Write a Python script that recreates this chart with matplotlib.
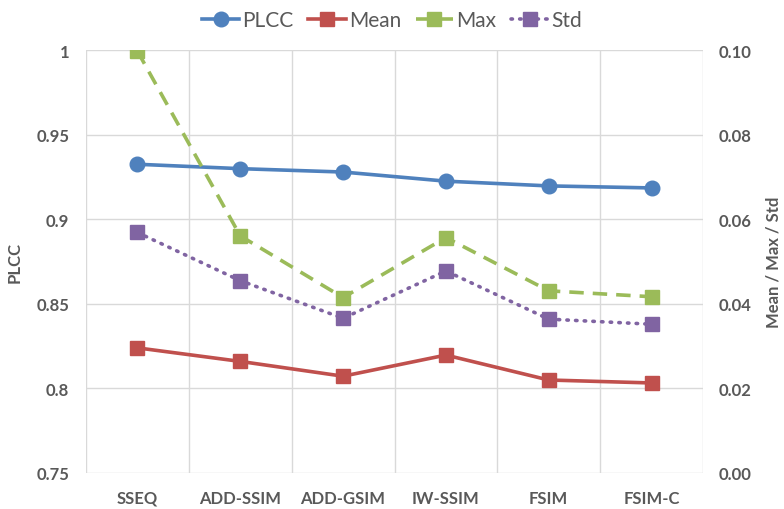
import matplotlib
matplotlib.use("Agg")
import matplotlib.pyplot as plt
import numpy as np
from matplotlib.ticker import FixedLocator, FormatStrFormatter

plt.rcParams['font.family'] = ['Lato', 'DejaVu Sans']

categories = ["SSEQ", "ADD-SSIM", "ADD-GSIM", "IW-SSIM", "FSIM", "FSIM-C"]
plcc = [0.9326, 0.9300, 0.9280, 0.9226, 0.9198, 0.9186]
mean_vals = [0.0296, 0.0264, 0.0229, 0.0279, 0.0220, 0.0213]
max_vals = [0.0998, 0.0561, 0.0415, 0.0557, 0.0431, 0.0417]
std_vals = [0.0569, 0.0455, 0.0366, 0.0478, 0.0364, 0.0352]

left_ticks = [0.75, 0.8, 0.85, 0.9, 0.95, 1.0]
left_labels = ["0.75", "0.8", "0.85", "0.9", "0.95", "1"]
right_ticks = [0.0, 0.02, 0.04, 0.06, 0.08, 0.10]

blue = "#4F81BD"
red = "#C0504D"
green = "#9BBB59"
purple = "#8064A2"
txt = "#595959"
grid = "#D9D9D9"

fig = plt.figure(figsize=(7.84, 5.10), dpi=100)
ax = fig.add_axes([86/784, 36/510, (703-86)/784, (474-51.3)/510])
ax2 = ax.twinx()

x = np.arange(len(categories))

ax.set_xlim(-0.5, len(categories) - 0.5)
ax.set_ylim(0.75, 1.0)
ax2.set_ylim(0.0, 0.10)

ax.set_yticks(left_ticks)
ax.set_yticklabels(left_labels)
ax2.set_yticks(right_ticks)
ax2.yaxis.set_major_formatter(FormatStrFormatter('%.2f'))
ax.set_xticks(x)
ax.set_xticklabels(categories)
ax.xaxis.set_minor_locator(FixedLocator(np.arange(-0.5, len(categories), 1.0)))

ax.grid(axis='y', which='major', color=grid, lw=1)
ax.grid(axis='x', which='minor', color=grid, lw=1)
ax.set_axisbelow(True)

for a in (ax, ax2):
    for s in a.spines.values():
        s.set_visible(False)
    a.tick_params(which='both', length=0, colors=txt, labelsize=12)
    for lab in a.get_yticklabels() + a.get_xticklabels():
        lab.set_fontweight('bold')
        lab.set_color(txt)

ax.tick_params(axis='y', pad=12)
ax2.tick_params(axis='y', pad=11)
ax.tick_params(axis='x', pad=12)

ax.set_ylabel("PLCC", fontsize=12, fontweight='bold', color=txt, labelpad=10)
ax2.set_ylabel("Mean / Max / Std", fontsize=12, fontweight='bold', color=txt, labelpad=10)

l1, = ax.plot(x, plcc, color=blue, lw=2.6, marker='o', ms=10.5, label="PLCC", zorder=5)
l2, = ax2.plot(x, mean_vals, color=red, lw=2.6, marker='s', ms=9.5, label="Mean")
l3, = ax2.plot(x, max_vals, color=green, lw=2.6, ls=(0, (4, 2.5)), marker='s', ms=9.5, label="Max")
l4, = ax2.plot(x, std_vals, color=purple, lw=2.6, ls=(0, (0.4, 2.0)), dash_capstyle='round', marker='s', ms=9.5, label="Std")

leg = fig.legend(handles=[l1, l2, l3, l4], loc='upper center', bbox_to_anchor=(0.5, 1.015), ncol=4,
                 frameon=False, fontsize=15, handlelength=1.8, handletextpad=0.15, columnspacing=0.7)
for t in leg.get_texts():
    t.set_color(txt)

fig.savefig("out.png", dpi=100)
